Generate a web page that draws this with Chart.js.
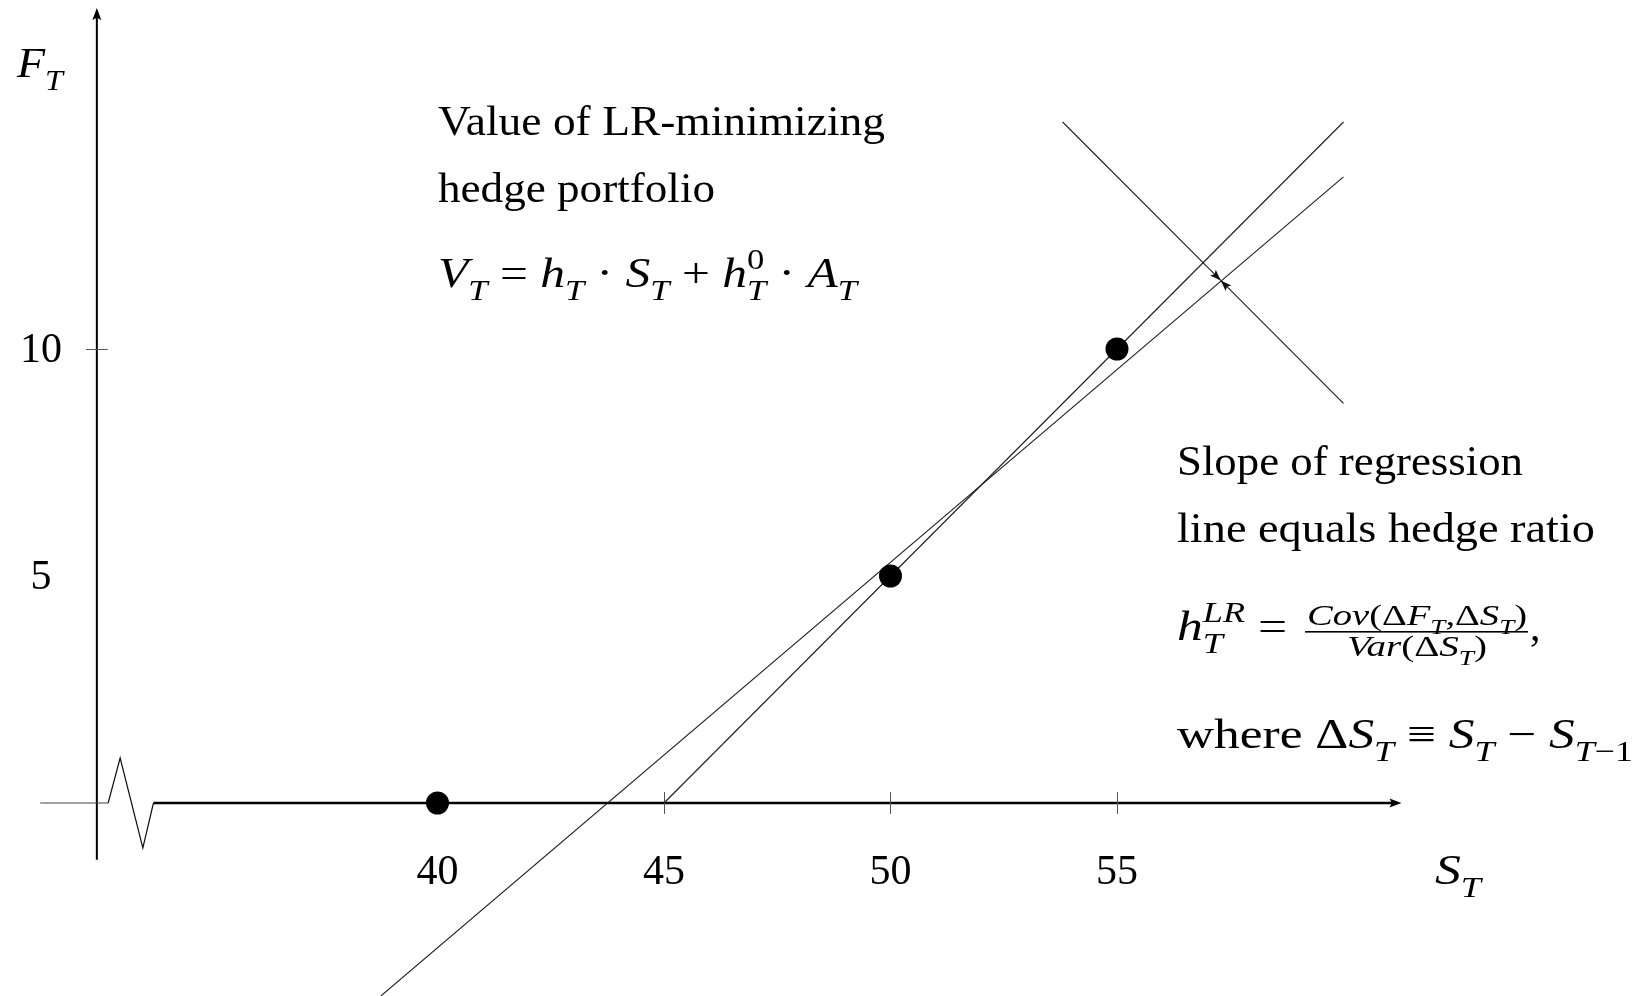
<!DOCTYPE html>
<html>
<head>
<meta charset="utf-8">
<script src="https://cdn.jsdelivr.net/npm/chart.js@4.4.1/dist/chart.umd.min.js"></script>
<style>
  html, body { margin: 0; padding: 0; background: #fff; }
  canvas { display: block; }
</style>
</head>
<body>
<canvas id="c" width="1645" height="996"></canvas>
<script>
// Observed spot prices at expiry and the matching futures values
const spotValues = [40, 50, 55];
const futuresValues = [0, 5, 10];

// Payoff line through the observations
const payoffX = [45, 60];
const payoffY = [0, 15];

// Regression line: value of the LR-minimizing hedge portfolio
const regressionX = [38.75, 60];
const regressionY = [-4.25, 13.79];

// Perpendicular marker: outer ends, meeting on the regression line
const markerX = [53.8, 60];
const markerY = [15, 8.8];
const markerMeet = [57.29, 11.51];

// Ticks and tick labels
const xTickValues = [40, 45, 50, 55];
const xTickLabels = ['40', '45', '50', '55'];
const yTickValues = [10];
const yLabelValues = [5, 10];
const yLabelTexts = ['5', '10'];

// Visible window (equal units on both axes)
const xRange = [30.342, 66.656];
const yRange = [-4.251, 17.687];

// Axis layout in data units (the horizontal axis is broken near the origin)
const yAxisAtX = 32.48;
const yAxisSpan = [-1.25, 17.51];
const xAxisSpan = [31.23, 61.28];

// ---------- text helpers ----------
const SERIF = '"Liberation Serif", "Times New Roman", serif';
const R = t => ({ t });
const I = t => ({ t, i: 1 });
const SUB_T = { sub: [I('T')] };

function fnt(it, size) { return (it ? 'italic ' : '') + size.toFixed(2) + 'px ' + SERIF; }

function runWidth(ctx, runs, size) {
  let w = 0;
  for (const r of runs) {
    if (r.sub || r.sup) {
      const s2 = size * 0.7;
      w += Math.max(r.sub ? runWidth(ctx, r.sub, s2) : 0, r.sup ? runWidth(ctx, r.sup, s2) : 0);
    } else {
      ctx.font = fnt(r.i, size);
      w += ctx.measureText(r.t).width;
    }
  }
  return w;
}

function drawRuns(ctx, runs, x, y, size) {
  for (const r of runs) {
    if (r.sub || r.sup) {
      const s2 = size * 0.7;
      let w = 0;
      if (r.sub) { drawRuns(ctx, r.sub, x, y + size * (r.sup ? 0.32 : 0.3), s2); w = Math.max(w, runWidth(ctx, r.sub, s2)); }
      if (r.sup) { drawRuns(ctx, r.sup, x, y - size * 0.42, s2); w = Math.max(w, runWidth(ctx, r.sup, s2)); }
      x += w;
    } else {
      ctx.font = fnt(r.i, size);
      ctx.fillText(r.t, x, y);
      x += ctx.measureText(r.t).width;
    }
  }
  return x;
}

// Draw a run list starting at x (or centred on x), optionally fitted to a width
function drawText(ctx, runs, x, y, size, width, centred) {
  const nat = runWidth(ctx, runs, size);
  const sx = width ? width / nat : 1;
  const w = nat * sx;
  ctx.save();
  ctx.translate(centred ? x - w / 2 : x, y);
  ctx.scale(sx, 1);
  ctx.textBaseline = 'alphabetic';
  ctx.textAlign = 'left';
  drawRuns(ctx, runs, 0, 0, size);
  ctx.restore();
}

function arrowHead(ctx, fx, fy, tx, ty, len, half) {
  const a = Math.atan2(ty - fy, tx - fx);
  ctx.save();
  ctx.translate(tx, ty);
  ctx.rotate(a);
  ctx.beginPath();
  ctx.moveTo(0, 0);
  ctx.lineTo(-len, -half);
  ctx.lineTo(-len * 0.8, 0);
  ctx.lineTo(-len, half);
  ctx.closePath();
  ctx.fill();
  ctx.restore();
}

const FS = 42;

const diagram = {
  id: 'diagram',
  beforeDatasetsDraw(chart) {
    const { ctx, scales: { x, y } } = chart;
    const ax = x.getPixelForValue(yAxisAtX);
    const y0 = y.getPixelForValue(0);
    ctx.save();
    ctx.lineCap = 'butt';

    // vertical axis with arrow
    const yTop = y.getPixelForValue(yAxisSpan[1]);
    ctx.strokeStyle = '#000';
    ctx.fillStyle = '#000';
    ctx.lineWidth = 2;
    ctx.beginPath();
    ctx.moveTo(ax, y.getPixelForValue(yAxisSpan[0]));
    ctx.lineTo(ax, yTop + 10);
    ctx.stroke();
    arrowHead(ctx, ax, yTop + 20, ax, yTop, 12, 4.5);

    // horizontal axis: thin stub, break zig-zag, then the thick axis with arrow
    const xs = x.getPixelForValue(xAxisSpan[0]);
    const xe = x.getPixelForValue(xAxisSpan[1]);
    ctx.strokeStyle = '#444';
    ctx.lineWidth = 1;
    ctx.beginPath();
    ctx.moveTo(xs, y0);
    ctx.lineTo(ax + 11.3, y0);
    ctx.stroke();
    ctx.strokeStyle = '#111';
    ctx.lineWidth = 1.2;
    ctx.beginPath();
    ctx.moveTo(ax + 11.3, y0);
    ctx.lineTo(ax + 23.3, y0 - 45);
    ctx.lineTo(ax + 46, y0 + 45);
    ctx.lineTo(ax + 56.6, y0);
    ctx.stroke();
    ctx.strokeStyle = '#000';
    ctx.lineWidth = 2.4;
    ctx.beginPath();
    ctx.moveTo(ax + 56.6, y0);
    ctx.lineTo(xe - 8, y0);
    ctx.stroke();
    arrowHead(ctx, xe - 20, y0, xe, y0, 12, 4.5);

    // tick marks
    ctx.strokeStyle = '#555';
    ctx.lineWidth = 1;
    xTickValues.forEach(v => {
      const px = Math.round(x.getPixelForValue(v)) + 0.5;
      ctx.beginPath();
      ctx.moveTo(px, y0 - 11);
      ctx.lineTo(px, y0 + 11);
      ctx.stroke();
    });
    yTickValues.forEach(v => {
      const py = Math.round(y.getPixelForValue(v)) + 0.5;
      ctx.beginPath();
      ctx.moveTo(ax - 11, py);
      ctx.lineTo(ax + 11, py);
      ctx.stroke();
    });

    // tick labels
    ctx.fillStyle = '#000';
    xTickValues.forEach((v, k) => {
      drawText(ctx, [R(xTickLabels[k])], x.getPixelForValue(v), y0 + 81, FS, 0, true);
    });
    yLabelValues.forEach((v, k) => {
      drawText(ctx, [R(yLabelTexts[k])], 41, y.getPixelForValue(v) + 13, FS, 0, true);
    });

    // axis titles
    drawText(ctx, [I('F'), SUB_T], 17, 77, FS, 46);
    drawText(ctx, [I('S'), SUB_T], 1435, y0 + 81, FS, 46);
    ctx.restore();
  },
  afterDatasetsDraw(chart) {
    const { ctx, scales: { x, y } } = chart;
    ctx.save();
    ctx.fillStyle = '#111';

    // arrowheads where the perpendicular marker meets the regression line
    const mx = x.getPixelForValue(markerMeet[0]);
    const my = y.getPixelForValue(markerMeet[1]);
    markerX.forEach((v, k) => {
      arrowHead(ctx, x.getPixelForValue(v), y.getPixelForValue(markerY[k]), mx, my, 11, 4);
    });

    // annotation: hedge portfolio value
    ctx.fillStyle = '#000';
    drawText(ctx, [R('Value of LR-minimizing')], 438, 135, FS, 447);
    drawText(ctx, [R('hedge portfolio')], 438, 202, FS, 277);
    drawText(ctx, [
      I('V'), SUB_T, R(' = '), I('h'), SUB_T, R(' \u00B7 '), I('S'), SUB_T,
      R(' + '), I('h'), { sub: [I('T')], sup: [R('0')] }, R(' \u00B7 '), I('A'), SUB_T
    ], 438, 287, FS, 419);

    // annotation: hedge ratio
    drawText(ctx, [R('Slope of regression')], 1177, 475, FS, 346);
    drawText(ctx, [R('line equals hedge ratio')], 1177, 542, FS, 418);
    drawText(ctx, [I('h'), { sub: [I('T')], sup: [I('LR')] }, R(' =')], 1177, 640, FS, 110);
    drawText(ctx, [I('Cov'), R('(\u0394'), I('F'), SUB_T, R(',\u0394'), I('S'), SUB_T, R(')')], 1417, 625, 30, 220, true);
    drawText(ctx, [I('Var'), R('(\u0394'), I('S'), SUB_T, R(')')], 1417, 656, 30, 140, true);
    ctx.fillRect(1305, 631, 223, 1.6);
    drawText(ctx, [R(',')], 1530, 640, FS, 0);
    drawText(ctx, [
      R('where \u0394'), I('S'), SUB_T, R(' \u2261 '), I('S'), SUB_T, R(' \u2212 '), I('S'),
      { sub: [I('T'), R('\u22121')] }
    ], 1177, 748, FS, 456);
    ctx.restore();
  }
};

const lineStyle = { showLine: true, fill: false, pointRadius: 0, borderColor: '#1c1c1c', borderWidth: 1.1 };
const pts = (xs, ys) => xs.map((v, k) => ({ x: v, y: ys[k] }));

new Chart(document.getElementById('c'), {
  type: 'scatter',
  data: {
    datasets: [
      { label: 'Observations', data: pts(spotValues, futuresValues), pointRadius: 11.5,
        pointBackgroundColor: '#000', pointBorderWidth: 0, showLine: false },
      { label: 'Payoff', data: pts(payoffX, payoffY), ...lineStyle },
      { label: 'Regression', data: pts(regressionX, regressionY), ...lineStyle },
      { label: 'Marker upper', data: [{ x: markerX[0], y: markerY[0] }, { x: markerMeet[0], y: markerMeet[1] }], ...lineStyle },
      { label: 'Marker lower', data: [{ x: markerX[1], y: markerY[1] }, { x: markerMeet[0], y: markerMeet[1] }], ...lineStyle }
    ]
  },
  options: {
    responsive: false,
    animation: false,
    events: [],
    layout: { padding: 0, autoPadding: false },
    plugins: { legend: { display: false }, tooltip: { enabled: false } },
    scales: {
      x: { type: 'linear', display: false, min: xRange[0], max: xRange[1], bounds: 'data' },
      y: { type: 'linear', display: false, min: yRange[0], max: yRange[1], bounds: 'data' }
    }
  },
  plugins: [diagram]
});
</script>
</body>
</html>
